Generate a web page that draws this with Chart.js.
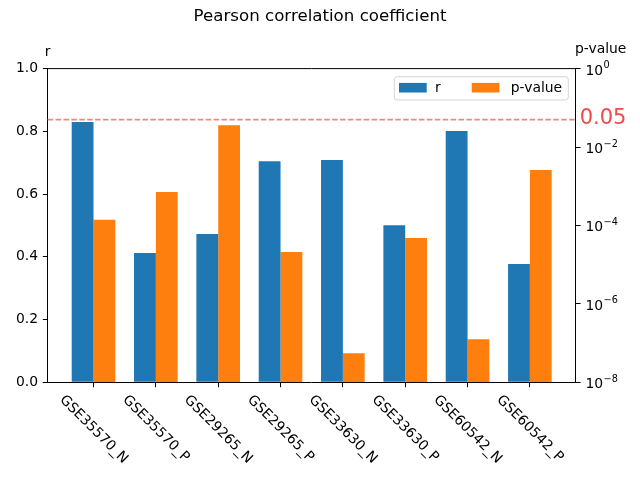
<!DOCTYPE html>
<html>
<head>
<meta charset="utf-8">
<script src="https://cdn.jsdelivr.net/npm/chart.js@4"></script>
<style>
  html, body { margin: 0; padding: 0; background: #fff; }
</style>
</head>
<body>
<canvas id="chart" width="640" height="480"></canvas>
<script>
// data
const categories = ["GSE35570_N", "GSE35570_P", "GSE29265_N", "GSE29265_P",
                    "GSE33630_N", "GSE33630_P", "GSE60542_N", "GSE60542_P"];
const rValues = [0.830, 0.412, 0.473, 0.705, 0.709, 0.501, 0.801, 0.377];
const pValues = [1.4e-4, 7.1e-4, 3.6e-2, 2.1e-5, 5.5e-8, 4.8e-5, 1.26e-7, 2.6e-3];
const rTicks = [0, 0.2, 0.4, 0.6, 0.8, 1.0];
const pTicks = [1e-8, 1e-6, 1e-4, 1e-2, 1];
const pThreshold = 0.05;

const FONT = "'DejaVu Sans', sans-serif";
const TICK = 4.86;

// threshold line, top spine, legend, axis titles, log tick labels and rotated category labels
const decorations = {
  id: "decorations",
  afterDatasetsDraw(chart) {
    const { ctx, chartArea: a, scales } = chart;
    ctx.save();

    const yp = scales.y1.getPixelForValue(pThreshold);
    ctx.strokeStyle = "#f08585";
    ctx.lineWidth = 1.6;
    ctx.setLineDash([5.5, 2.4]);
    ctx.beginPath();
    ctx.moveTo(a.left, yp);
    ctx.lineTo(a.right, yp);
    ctx.stroke();
    ctx.setLineDash([]);
    ctx.fillStyle = "#f04a4a";
    ctx.font = `21px ${FONT}`;
    ctx.textAlign = "left";
    ctx.textBaseline = "middle";
    ctx.fillText("0.05", a.right + 4, yp - 1.5);

    ctx.strokeStyle = "#000";
    ctx.lineWidth = 1;
    ctx.beginPath();
    ctx.moveTo(a.left, a.top);
    ctx.lineTo(a.right, a.top);
    ctx.stroke();

    // legend box
    const bw = 174, bh = 23.3;
    const bx = a.right - 7.4 - bw, by = a.top + 8.1;
    ctx.fillStyle = "rgba(255,255,255,0.8)";
    ctx.strokeStyle = "#d4d4d4";
    ctx.beginPath();
    ctx.roundRect(bx, by, bw, bh, 3);
    ctx.fill();
    ctx.stroke();
    const items = [[4.7, 40.7], [77.4, 116.4]];
    ctx.font = `13.9px ${FONT}`;
    chart.data.datasets.forEach((ds, i) => {
      ctx.fillStyle = ds.backgroundColor;
      ctx.fillRect(bx + items[i][0], by + 6.2, 27.7, 9.6);
      ctx.fillStyle = "#000";
      ctx.fillText(ds.label, bx + items[i][1], by + 11.5);
    });

    // axis titles above the spines
    ctx.textAlign = "center";
    ctx.textBaseline = "alphabetic";
    ctx.fillText("r", a.left, 56);
    ctx.fillText("p-value", a.right + 25, 53);

    // log axis labels as 10 with a raised exponent
    ctx.textAlign = "left";
    const lx = a.right + 2 * TICK;
    pTicks.forEach(v => {
      const y = scales.y1.getPixelForValue(v);
      const e = Math.round(Math.log10(v));
      ctx.font = `13.9px ${FONT}`;
      ctx.fillText("10", lx, y + 6);
      const w = ctx.measureText("10").width;
      ctx.font = `9.7px ${FONT}`;
      ctx.fillText(String(e).replace("-", "\u2212"), lx + w + 0.5, y - 0.5);
    });

    // category labels, rotated -45deg as in matplotlib
    ctx.font = `13.9px ${FONT}`;
    ctx.textAlign = "center";
    ctx.textBaseline = "middle";
    const h = 13.9 * 1.16;
    categories.forEach((lab, i) => {
      const x = scales.x.getPixelForValue(i);
      const w = ctx.measureText(lab).width;
      const cy = a.bottom + 2 * TICK + (w + h) * Math.SQRT1_2 / 2;
      ctx.save();
      ctx.translate(x, cy);
      ctx.rotate(Math.PI / 4);
      ctx.fillText(lab, 0, 0);
      ctx.restore();
    });
    ctx.restore();
  }
};

const axisGrid = { display: true, drawOnChartArea: false, drawTicks: true, tickLength: TICK, color: "#000", lineWidth: 1 };
const axisBorder = { display: true, color: "#000", width: 1 };

new Chart(document.getElementById("chart").getContext("2d"), {
  type: "bar",
  data: {
    datasets: [{
      label: "r",
      data: rValues.map((v, i) => ({ x: i, y: v })),
      backgroundColor: "#1f77b4",
      yAxisID: "y"
    }, {
      label: "p-value",
      data: pValues.map((v, i) => ({ x: i, y: v })),
      backgroundColor: "#ff7f0e",
      yAxisID: "y1"
    }]
  },
  options: {
    responsive: false,
    animation: false,
    datasets: { bar: { categoryPercentage: 0.7, barPercentage: 1.0 } },
    layout: { padding: 0 },
    plugins: {
      legend: { display: false },
      tooltip: { enabled: false },
      title: {
        display: true,
        text: "Pearson correlation coefficient",
        color: "#000",
        font: { family: FONT, size: 16.67, weight: "normal" },
        padding: { top: 7, bottom: 41.6 }
      }
    },
    scales: {
      x: {
        type: "linear",
        offset: false,
        min: -0.735,
        max: 7.735,
        grid: { ...axisGrid, offset: false },
        border: axisBorder,
        ticks: { display: false },
        afterBuildTicks: s => { s.ticks = categories.map((_, i) => ({ value: i })); },
        afterFit: s => { s.height = 97.7; }
      },
      y: {
        position: "left",
        min: 0,
        max: 1,
        grid: axisGrid,
        border: axisBorder,
        ticks: {
          color: "#000",
          padding: TICK,
          font: { family: FONT, size: 13.9 },
          callback: v => Number(v).toFixed(1)
        },
        afterBuildTicks: s => { s.ticks = rTicks.map(v => ({ value: v })); },
        afterFit: s => { s.width = 47.7; }
      },
      y1: {
        type: "logarithmic",
        position: "right",
        min: 1e-8,
        max: 1,
        grid: axisGrid,
        border: axisBorder,
        ticks: { display: false },
        afterBuildTicks: s => { s.ticks = pTicks.map(v => ({ value: v })); },
        afterFit: s => { s.width = 64.3; }
      }
    }
  },
  plugins: [decorations]
});
</script>
</body>
</html>
